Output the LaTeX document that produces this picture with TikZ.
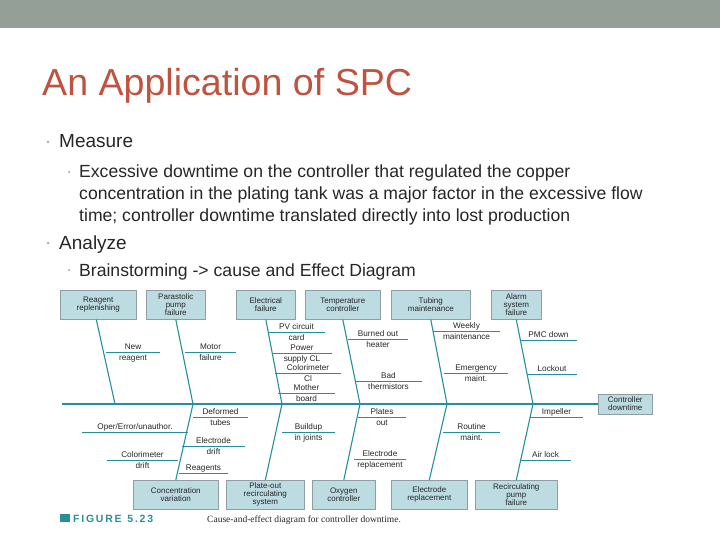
\documentclass[tikz,border=0pt]{standalone}
\usepackage{fontspec}
\setmainfont{Liberation Sans}
\newfontfamily\capserif{Liberation Serif}
\definecolor{barc}{HTML}{949F97}
\definecolor{titc}{HTML}{C0533F}
\definecolor{boxf}{HTML}{BCDCE2}
\definecolor{boxd}{HTML}{8E9EA2}
\definecolor{bonec}{HTML}{23909C}
\definecolor{txtc}{HTML}{262626}
\definecolor{figc}{HTML}{2A8E9A}
\tikzset{
 cbox/.style={draw=boxd,fill=boxf,line width=0.6pt,inner sep=0pt,align=center,font=\fontsize{8}{8}\selectfont,text=txtc},
 bone/.style={draw=bonec,line width=1.1pt},
 sub/.style={draw=bonec,line width=0.7pt},
 lab/.style={font=\fontsize{8.2}{8.5}\selectfont,text=txtc,inner sep=0pt},
 bul/.style={circle,fill=gray!60,inner sep=0pt,minimum size=3pt},
}
\newcommand{\mkbox}[6]{\node[cbox,minimum width=#3-#2,minimum height=29,anchor=north west] (#1) at (#2,#4) {#5};}
\newcommand{\subc}[6]{\draw[sub] (#2,#4) coordinate (#1a) -- (#3,#4) coordinate (#1b);
 \node[lab,anchor=base] at ({(#2+#3)/2},#4-2.5) {#5};
 \node[lab,anchor=base] at ({(#2+#3)/2},#4+8.5) {#6};}
\begin{document}
\begin{tikzpicture}[x=1pt,y=-1pt]
\useasboundingbox (0,0) rectangle (720,540);
\fill[barc] (0,0) rectangle (720,28);
\node[anchor=base west,inner sep=0pt,text=titc,font=\fontsize{37.6}{38}\selectfont] (title) at (42,96) {An Application of SPC};
\node[bul] (b1) at (48,142) {};
\node[anchor=base west,inner sep=0pt,font=\fontsize{19}{20}\selectfont,text=txtc] (t1) at (59,148) {Measure};
\node[bul,minimum size=2.5pt] (b2) at (69,172) {};
\node[anchor=base west,inner sep=0pt,font=\fontsize{17.6}{22}\selectfont,text=txtc] (t2) at (79,178) {Excessive downtime on the controller that regulated the copper};
\node[anchor=base west,inner sep=0pt,font=\fontsize{17.6}{22}\selectfont,text=txtc] (t3) at (79,200) {concentration in the plating tank was a major factor in the excessive flow};
\node[anchor=base west,inner sep=0pt,font=\fontsize{17.6}{22}\selectfont,text=txtc] (t4) at (79,222) {time; controller downtime translated directly into lost production};
\node[bul] (b3) at (48,243) {};
\node[anchor=base west,inner sep=0pt,font=\fontsize{19}{20}\selectfont,text=txtc] (t5) at (59,249) {Analyze};
\node[bul,minimum size=2.5pt] (b4) at (69,270) {};
\node[anchor=base west,inner sep=0pt,font=\fontsize{17.6}{20}\selectfont,text=txtc] (t6) at (79,276) {Brainstorming -> cause and Effect Diagram};
% boxes
\mkbox{r1}{60}{136}{290}{Reagent\\replenishing}{}
\mkbox{r2}{146}{205}{290}{Parastolic\\pump\\failure}{}
\mkbox{r3}{236}{295}{290}{Electrical\\failure}{}
\mkbox{r4}{305}{380}{290}{Temperature\\controller}{}
\mkbox{r5}{391}{470}{290}{Tubing\\maintenance}{}
\mkbox{r6}{491}{541}{290}{Alarm\\system\\failure}{}
\mkbox{s1}{133}{218}{480}{Concentration\\variation}{}
\mkbox{s2}{226}{304}{480}{Plate-out\\recirculating\\system}{}
\mkbox{s3}{312}{375}{480}{Oxygen\\controller}{}
\mkbox{s4}{391}{467}{480}{Electrode\\replacement}{}
\mkbox{s5}{475}{557}{480}{Recirculating\\pump\\failure}{}
\node[cbox,minimum width=54,minimum height=20,anchor=west] (eff) at (598,404) {Controller\\downtime};
% spine
\coordinate (tail) at (62,404);
\draw[bone] (tail) -- (eff.west);
\coordinate (j1) at (115,404); \coordinate (j2) at (193,404); \coordinate (j3) at (282,404);
\coordinate (j4) at (360,404); \coordinate (j5) at (447,404); \coordinate (j6) at (533,404);
\draw[bone] ([xshift=-2]r1.south) -- (j1);
\draw[bone] (r2.south) -- (j2);
\draw[bone] (r3.south) -- (j3);
\draw[bone] (r4.south) -- (j4);
\draw[bone] (r5.south) -- (j5);
\draw[bone] (r6.south) -- (j6);
\draw[bone] (s1.north) -- (j2);
\draw[bone] (s2.north) -- (j3);
\draw[bone] (s3.north) -- (j4);
\draw[bone] (s4.north) -- (j5);
\draw[bone] (s5.north) -- (j6);
% sub-causes top
\subc{a1}{106}{160}{352}{New}{reagent}
\subc{a2}{185}{236}{352}{Motor}{failure}
\subc{a3}{268}{325}{332}{PV circuit}{card}
\subc{a4}{272}{332}{353}{Power}{supply CL}
\subc{a5}{275}{341}{373}{Colorimeter}{Cl}
\subc{a6}{278}{335}{393}{Mother}{board}
\subc{a7}{348}{408}{339}{Burned out}{heater}
\subc{a8}{355}{422}{381}{Bad}{thermistors}
\subc{a9}{433}{500}{331}{Weekly}{maintenance}
\subc{a10}{444}{508}{373}{Emergency}{maint.}
\subc{a11}{520}{577}{340}{PMC down}{}
\subc{a12}{527}{577}{374}{Lockout}{}
% sub-causes bottom
\subc{c1}{193}{248}{417}{Deformed}{tubes}
\subc{c2}{82}{188}{432}{Oper/Error/unauthor.}{}
\subc{c3}{182}{245}{446}{Electrode}{drift}
\subc{c4}{107}{178}{460}{Colorimeter}{drift}
\subc{c5}{179}{228}{473}{Reagents}{}
\subc{c6}{282}{335}{432}{Buildup}{in joints}
\subc{c7}{358}{406}{417}{Plates}{out}
\subc{c8}{354}{406}{459}{Electrode}{replacement}
\subc{c9}{443}{500}{432}{Routine}{maint.}
\subc{c10}{530}{583}{417}{Impeller}{}
\subc{c11}{520}{571}{460}{Air lock}{}
% caption
\fill[figc] (60,514) rectangle (70,522);
\node[anchor=base west,inner sep=0pt,text=figc,font=\fontsize{10.5}{10}\bfseries\selectfont] (fig) at (73,522) {F\,I\,G\,U\,R\,E\ \ 5\,.\,2\,3};
\node[anchor=base west,inner sep=0pt,text=txtc,font=\capserif\fontsize{9.5}{9}\selectfont] (cap) at (207,522) {Cause-and-effect diagram for controller downtime.};
\end{tikzpicture}
\end{document}
